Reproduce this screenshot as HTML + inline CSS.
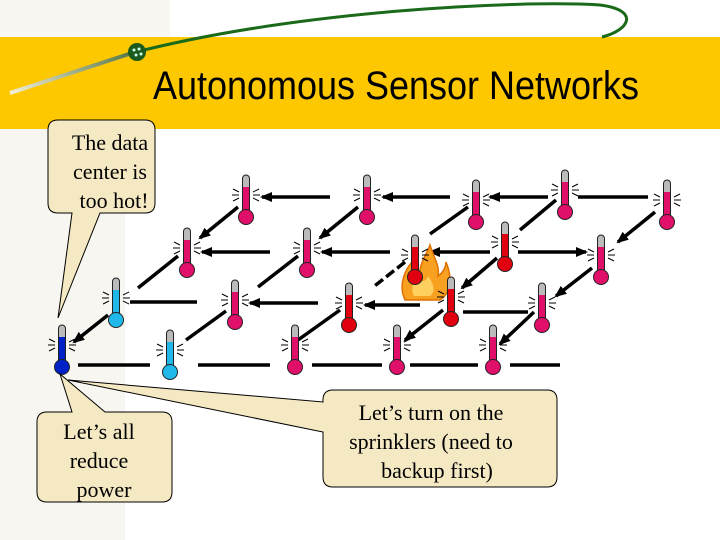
<!DOCTYPE html>
<html><head><meta charset="utf-8"><style>
html,body{margin:0;padding:0;background:#fff;}
svg{display:block;font-family:"Liberation Serif",serif;}
</style></head><body>
<svg width="720" height="540" viewBox="0 0 720 540" xmlns="http://www.w3.org/2000/svg">
<defs>
<marker id="ah" markerWidth="12" markerHeight="10" refX="10" refY="5" orient="auto" markerUnits="userSpaceOnUse">
<path d="M0,0 L12,5 L0,10 Z" fill="#000"/></marker>
<linearGradient id="gl" x1="0" y1="1" x2="1" y2="0"><stop offset="0" stop-color="#f4f0d8"/><stop offset="1" stop-color="#557744"/></linearGradient>
<g id="th">
<rect x="-3.5" y="0" width="7" height="40" rx="3.5" fill="#bbb" stroke="#222" stroke-width="1"/>
<rect x="-3" y="12" width="6" height="30" fill="currentColor"/>
<circle cx="0" cy="42" r="7.5" fill="currentColor" stroke="#222" stroke-width="1"/>
<path d="M-13,14 l6,3 M-14,20 l7,0 M-13,26 l6,-3 M13,14 l-6,3 M14,20 l-7,0 M13,26 l-6,-3" stroke="#000" stroke-width="1"/>
</g>
</defs>
<!-- left pattern strip -->
<rect x="0" y="0" width="125" height="540" fill="#f7f6f1"/>
<rect x="0" y="0" width="170" height="40" fill="#f8f7f2"/>
<!-- yellow band -->
<rect x="0" y="37" width="720" height="92" fill="#fdc800"/>
<path d="M10,93 L132,53" stroke="url(#gl)" stroke-width="4"/>
<path d="M132,53 C300,10 520,0 600,5 C640,10 630,30 602,37" stroke="#1a6a1a" stroke-width="3" fill="none"/>
<circle cx="137" cy="52" r="9" fill="#1a5a1a"/>
<circle cx="134" cy="50" r="1.5" fill="#cfe"/><circle cx="139" cy="49" r="1.5" fill="#cfe"/><circle cx="136" cy="55" r="1.5" fill="#cfe"/><circle cx="141" cy="54" r="1.5" fill="#cfe"/>
<text x="153" y="99" font-family="Liberation Sans, sans-serif" font-size="40" textLength="486" lengthAdjust="spacingAndGlyphs" fill="#000">Autonomous Sensor Networks</text>

<!-- edges -->
<g stroke="#000" stroke-width="3.5" fill="none">
<line x1="330" y1="197" x2="262" y2="197" marker-end="url(#ah)"/>
<line x1="450" y1="197" x2="383" y2="197" marker-end="url(#ah)"/>
<line x1="548" y1="197" x2="490" y2="197" marker-end="url(#ah)"/>
<line x1="578" y1="197" x2="648" y2="197"/>
<line x1="270" y1="252" x2="202" y2="252" marker-end="url(#ah)"/>
<line x1="390" y1="252" x2="322" y2="252" marker-end="url(#ah)"/>
<line x1="490" y1="252" x2="430" y2="252" marker-end="url(#ah)"/>
<line x1="518" y1="252" x2="586" y2="252" marker-end="url(#ah)"/>
<line x1="197" y1="302" x2="130" y2="302"/>
<line x1="318" y1="303" x2="250" y2="303" marker-end="url(#ah)"/>
<line x1="420" y1="305" x2="365" y2="305" marker-end="url(#ah)"/>
<line x1="463" y1="312" x2="528" y2="312"/>
<line x1="78" y1="365" x2="150" y2="365"/>
<line x1="198" y1="365" x2="270" y2="365"/>
<line x1="312" y1="365" x2="382" y2="365"/>
<line x1="410" y1="365" x2="478" y2="365"/>
<line x1="510" y1="365" x2="560" y2="365"/>
<line x1="238" y1="207" x2="200" y2="238" marker-end="url(#ah)"/>
<line x1="358" y1="207" x2="320" y2="238" marker-end="url(#ah)"/>
<line x1="468" y1="207" x2="430" y2="234" />
<line x1="556" y1="200" x2="520" y2="230" />
<line x1="655" y1="212" x2="618" y2="242" marker-end="url(#ah)"/>
<line x1="178" y1="256" x2="138" y2="288" />
<line x1="298" y1="256" x2="258" y2="287" />
<line x1="405" y1="262" x2="372" y2="288" stroke-dasharray="10 4"/>
<line x1="497" y1="258" x2="462" y2="288" marker-end="url(#ah)"/>
<line x1="592" y1="268" x2="556" y2="296" marker-end="url(#ah)"/>
<line x1="108" y1="315" x2="74" y2="342" marker-end="url(#ah)"/>
<line x1="226" y1="311" x2="186" y2="340" />
<line x1="340" y1="310" x2="298" y2="340" />
<line x1="443" y1="310" x2="405" y2="340" marker-end="url(#ah)"/>
<line x1="534" y1="312" x2="500" y2="344" marker-end="url(#ah)"/>
</g>

<g>
<use href="#th" x="246" y="175" style="color:#e0106a"/>
<use href="#th" x="367" y="175" style="color:#e0106a"/>
<use href="#th" x="476" y="180" style="color:#e0106a"/>
<use href="#th" x="565" y="170" style="color:#e0106a"/>
<use href="#th" x="667" y="180" style="color:#e0106a"/>
<use href="#th" x="187" y="228" style="color:#e0106a"/>
<use href="#th" x="307" y="228" style="color:#e0106a"/>
<use href="#th" x="505" y="222" style="color:#e00010"/>
<use href="#th" x="601" y="235" style="color:#e0106a"/>
<use href="#th" x="116" y="278" style="color:#20b8e8"/>
<use href="#th" x="235" y="280" style="color:#e0106a"/>
<use href="#th" x="349" y="283" style="color:#e00010"/>
<use href="#th" x="542" y="283" style="color:#e0106a"/>
<use href="#th" x="62" y="325" style="color:#0020c8"/>
<use href="#th" x="170" y="330" style="color:#20b8e8"/>
<use href="#th" x="295" y="325" style="color:#e0106a"/>
<use href="#th" x="397" y="325" style="color:#e0106a"/>
<use href="#th" x="493" y="325" style="color:#e0106a"/>
</g>
<path d="M405,300 C398,285 405,270 412,262 C412,272 418,276 420,270 C422,258 428,252 430,245 C434,258 440,266 438,276 C444,272 446,266 446,262 C452,276 452,292 440,300 Z" fill="#f8a020" stroke="#e07000" stroke-width="1.5"/>
<path d="M414,296 C410,288 414,280 418,276 C420,284 426,282 428,276 C434,284 436,292 430,296 Z" fill="#ffd060"/>
<use href="#th" x="415" y="235" style="color:#e00010"/>
<use href="#th" x="451" y="277" style="color:#e00010"/>

<g fill="#f5e9c4" stroke="#000" stroke-width="1">
<path d="M60,120 H145 Q155,120 155,130 V203 Q155,213 145,213 H100 L58,318 L72,213 H58 Q48,213 48,203 V130 Q48,120 58,120 Z"/>
<path d="M47,412 H72 L60,374 L105,412 H162 Q172,412 172,422 V492 Q172,502 162,502 H47 Q37,502 37,492 V422 Q37,412 47,412 Z"/>
<path d="M333,390 H547 Q557,390 557,400 V477 Q557,487 547,487 H333 Q323,487 323,477 V432 L68,380 L323,402 V400 Q323,390 333,390 Z"/>
</g>
<g font-size="22" fill="#000" text-anchor="middle">
<text x="110" y="150">The data</text>
<text x="110" y="179">center is</text>
<text x="114" y="208">too hot!</text>
<text x="99" y="439">Let’s all</text>
<text x="99" y="468">reduce</text>
<text x="104" y="497">power</text>
<text x="431" y="420">Let’s turn on the</text>
<text x="431" y="449">sprinklers (need to</text>
<text x="437" y="478">backup first)</text>
</g>
</svg>
</body></html>
